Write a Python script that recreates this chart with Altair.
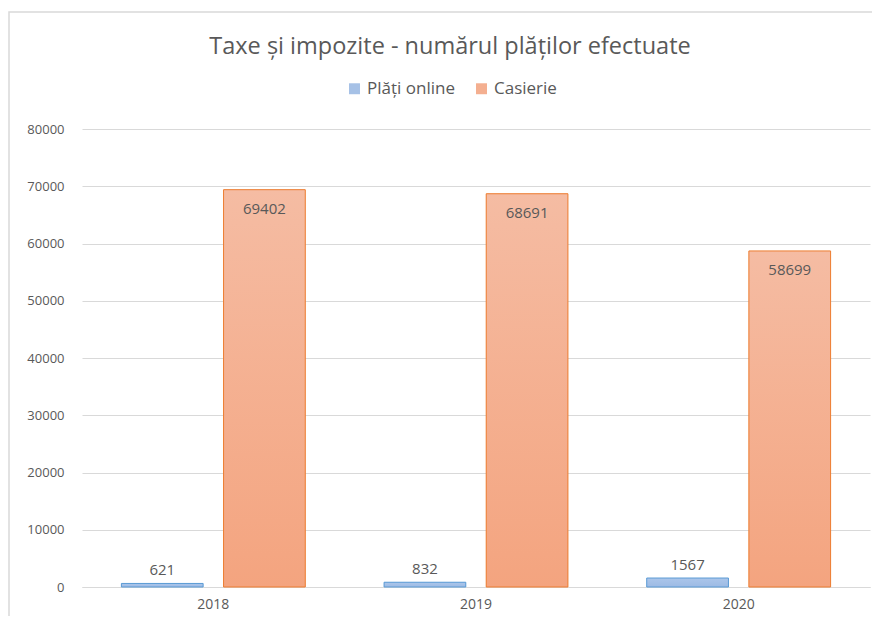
import altair as alt
import pandas as pd

years = ["2018", "2019", "2020"]
online = [621, 832, 1567]
casierie = [69402, 68691, 58699]
series = ["Plăți online", "Casierie"]

rows = []
for i, y in enumerate(years):
    rows.append({"year": y, "series": series[0], "value": online[i]})
    rows.append({"year": y, "series": series[1], "value": casierie[i]})
df = pd.DataFrame(rows)

FONT = "Open Sans"
TXT = "#595959"

x_enc = alt.X("year:N", sort=years, title=None,
              scale=alt.Scale(paddingInner=0.3, paddingOuter=0.15),
              axis=alt.Axis(labelAngle=0, ticks=False, domainColor="#D9D9D9",
                            labelColor=TXT, labelFontSize=14, labelFont=FONT,
                            labelPadding=10))
xo_enc = alt.XOffset("series:N", sort=series,
                     scale=alt.Scale(paddingInner=0.2, paddingOuter=0))
y_enc = alt.Y("value:Q", title=None,
              scale=alt.Scale(domain=[0, 80000], nice=False),
              axis=alt.Axis(values=list(range(0, 80001, 10000)), format="d", ticks=False,
                            domain=False, gridColor="#D9D9D9", labelColor=TXT,
                            labelFontSize=13, labelFont=FONT, labelPadding=18))

base = alt.Chart(df).encode(x=x_enc, xOffset=xo_enc, y=y_enc)

solid = base.mark_bar().encode(
    color=alt.Color("series:N", sort=series,
                    scale=alt.Scale(domain=series, range=["#A6C1E6", "#F4AF90"]),
                    legend=alt.Legend(title=None, orient="none", direction="horizontal",
                                      legendX=264, legendY=-49, symbolType="square",
                                      symbolSize=120, symbolStrokeWidth=1,
                                      labelFontSize=17, labelColor=TXT, labelFont=FONT,
                                      columnPadding=18, labelOffset=4))
)

blue_grad = alt.Gradient(gradient="linear", x1=0, x2=0, y1=0, y2=1,
                         stops=[alt.GradientStop(color="#ABC6EA", offset=0),
                                alt.GradientStop(color="#9DBAE4", offset=1)])
orange_grad = alt.Gradient(gradient="linear", x1=0, x2=0, y1=0, y2=1,
                           stops=[alt.GradientStop(color="#F5BCA3", offset=0),
                                  alt.GradientStop(color="#F4A47F", offset=1)])

blue_bars = base.transform_filter(alt.datum.series == series[0]).mark_bar(
    fill=blue_grad, stroke="#5B9BD5", strokeWidth=1)
orange_bars = base.transform_filter(alt.datum.series == series[1]).mark_bar(
    fill=orange_grad, stroke="#ED7D31", strokeWidth=1)

blue_text = base.transform_filter(alt.datum.series == series[0]).mark_text(
    baseline="bottom", dy=-5, fontSize=15, color=TXT, font=FONT).encode(text="value:Q")
orange_text = base.transform_filter(alt.datum.series == series[1]).mark_text(
    baseline="top", dy=12, fontSize=15, color=TXT, font=FONT).encode(text="value:Q")

# light frame around the whole chart area (decorative)
frame = alt.Chart(pd.DataFrame({"k": [0]})).mark_rect(
    filled=False, stroke="#D9D9D9", strokeWidth=1.5).encode(
    x=alt.value(-73), x2=alt.value(830), y=alt.value(-117), y2=alt.value(700))

chart = alt.layer(frame, solid, blue_bars, orange_bars, blue_text, orange_text).properties(
    width=788, height=458,
    autosize=alt.AutoSizeParams(type="none"),
    padding={"left": 74, "top": 121, "right": 2, "bottom": 29},
    title=alt.TitleParams("Taxe și impozite - numărul plăților efectuate",
                          fontSize=23.5, font=FONT, color=TXT, fontWeight="normal",
                          anchor="middle", offset=0, dy=47, dx=-26),
).configure(background="white").configure_view(strokeWidth=0)

chart.save("out.html", embed_options={"renderer": "svg", "actions": False})
